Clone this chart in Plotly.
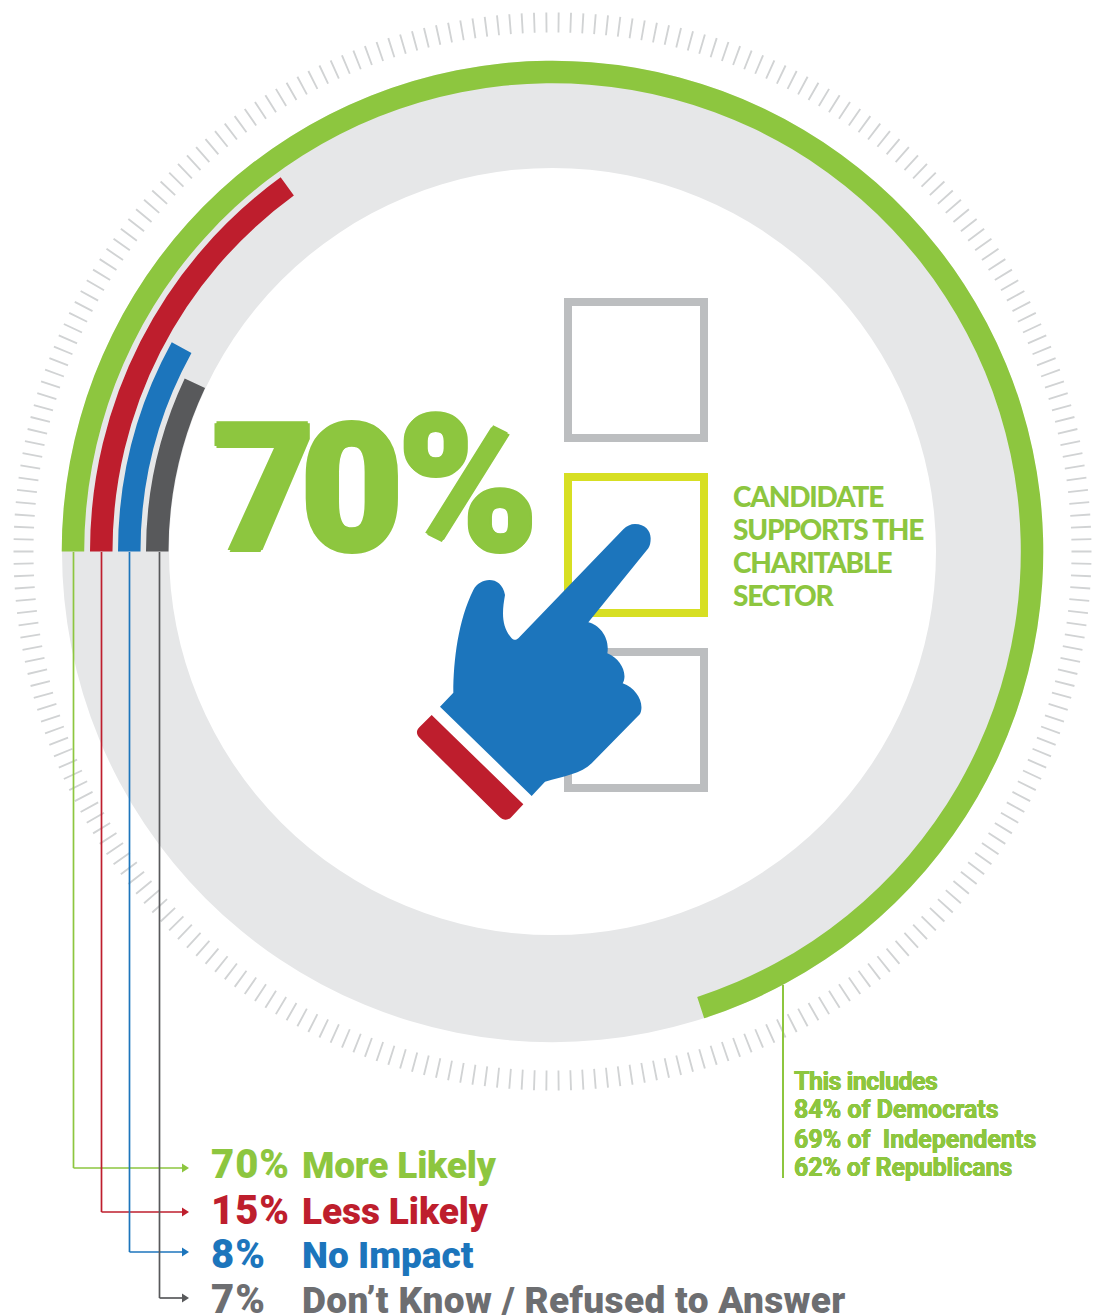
import re
import numpy as np
import plotly.graph_objects as go

W, H = 1099, 1315
CX, CY, RMAX = 552.5, 551.5, 540

# data
shares = [70, 15, 8, 7]
pct_labels = ["70%", "15%", "8%", "7%"]
names = ["More Likely", "Less Likely", "No Impact", "Don’t Know / Refused to Answer"]
colors = ["#8dc63f", "#be1e2d", "#1c75bc", "#58595b"]
text_colors = ["#8dc63f", "#be1e2d", "#1c75bc", "#6d6e71"]
ring_bases = [468.3, 440, 412, 384]
ring_thick = 22.5
note_lines = ["This includes", "84% of Democrats", "69% of  Independents", "62% of Republicans"]
side_lines = ["CANDIDATE", "SUPPORTS THE", "CHARITABLE", "SECTOR"]

GREEN = colors[0]
FONT = "Roboto"


def px(x):
    return x / W


def py(y):
    return 1 - y / H


def path_from(d, ox=0.0, oy=0.0, k=1.0):
    toks = re.findall(r"[MLCZ]|-?\d+\.?\d*", d)
    out, i = [], 0
    while i < len(toks):
        t = toks[i]
        if t in "MLCZ":
            out.append(t)
            i += 1
        else:
            x, y = float(toks[i]), float(toks[i + 1])
            out.append(f"{px(ox + x * k):.5f},{py(oy + y * k):.5f}")
            i += 2
    return " ".join(out)


fig = go.Figure()

# tick ring
n_ticks = 274
fig.add_trace(go.Barpolar(
    theta=np.arange(n_ticks) * 360 / n_ticks, r=[20] * n_ticks, base=[519] * n_ticks,
    width=[0.2] * n_ticks, marker=dict(color="#d1d3d4", line=dict(width=0)), hoverinfo="skip"))
# background ring
fig.add_trace(go.Barpolar(
    theta=[180], r=[107], base=[383.5], width=[360],
    marker=dict(color="#e6e7e8", line=dict(width=0)), hoverinfo="skip"))
# series arcs
for s, c, b, n in zip(shares, colors, ring_bases, names):
    fig.add_trace(go.Barpolar(
        theta=[s * 3.6 / 2], width=[s * 3.6], r=[ring_thick], base=[b], name=n,
        marker=dict(color=c, line=dict(width=0))))

shapes = []


def seg(x0, y0, x1, y1, c, w=1.7):
    shapes.append(dict(type="line", xref="paper", yref="paper", x0=px(x0), y0=py(y0),
                       x1=px(x1), y1=py(y1), line=dict(color=c, width=w), layer="above"))


def fill(d, c, ox=0.0, oy=0.0, k=1.0):
    shapes.append(dict(type="path", xref="paper", yref="paper", path=path_from(d, ox, oy, k),
                       fillcolor=c, line=dict(width=0), layer="above"))


# leaders
lead_x = [73.5, 101.5, 129.5, 159.5]
lead_y = [1168, 1212, 1252, 1298]
for x, y, c in zip(lead_x, lead_y, colors):
    seg(x, 552, x, y, c)
    seg(x, y, 184, y, c)
    fill(f"M 182 {y-4.5} L 189 {y} L 182 {y+4.5} Z", c)
seg(783, 985, 783, 1178, GREEN, 2)

# check boxes
for y0, c in zip([298, 473, 648], ["#bcbec0", "#d7df23", "#bcbec0"]):
    shapes.append(dict(type="rect", xref="paper", yref="paper", x0=px(568), x1=px(704),
                       y0=py(y0 + 4), y1=py(y0 + 140), line=dict(color=c, width=8),
                       fillcolor="rgba(0,0,0,0)", layer="above"))

# hand + cuff (traced in 3x zoom space)
hand = ("M 705 42 C 735 42 752 62 752 85 C 752 98 750 108 745 115 L 565 337 "
        "C 600 345 630 385 622 430 C 660 445 685 490 668 520 C 710 535 735 580 720 612 "
        "L 575 760 C 545 790 490 800 435 815 L 395 858 L 120 590 L 160 548 "
        "C 160 450 175 330 220 240 C 240 200 305 195 315 255 C 305 310 305 350 335 385 "
        "C 343 392 350 390 355 385 L 670 58 C 680 48 692 42 705 42 Z")
cuff = ("M 95 615 L 370 883 L 335 920 C 325 932 310 932 298 920 L 60 685 "
        "C 48 673 48 662 58 652 Z")
fill(hand, colors[2], 400, 510, 1 / 3)
fill(cuff, colors[1], 400, 510, 1 / 3)

ann = []


def thick(c, t):
    if not t:
        return "none"
    return f"{t}px 0 0 {c}, -{t}px 0 0 {c}, 0 {t}px 0 {c}, 0 -{t}px 0 {c}"


def spaced(s, sp):
    return f'<span style="letter-spacing:{sp}px">{s}</span>'


def text(x, base, s, size, c, weight=700, family=FONT, t=0):
    ann.append(dict(xref="paper", yref="paper", x=px(x), y=py(base + 0.27 * size), text=s,
                    showarrow=False, xanchor="left", yanchor="bottom", borderpad=0, borderwidth=0,
                    font=dict(family=family, size=size, color=c, weight=weight, shadow=thick(c, t))))


bases = [1177, 1223, 1267, 1312]
name_spacing = [-0.2, -0.1, 0, 0.35]
for b, p, n, c, sp in zip(bases, pct_labels, names, text_colors, name_spacing):
    text(211, b, spaced(p, 1), 40, c, weight=900)
    text(302, b, spaced(n, sp), 37, c, weight=900)
for b, s in zip([505, 538, 571, 604], side_lines):
    text(733, b, spaced(s, -1.2), 28, GREEN, family="Lato", weight=900)
for b, s, sp in zip([1089, 1117, 1147, 1175], note_lines, [-0.5, 0, 0, -0.15]):
    text(794, b, spaced(s, sp), 25, GREEN, t=0.3)
text(212, 548,
     '<span style="letter-spacing:-15px">7</span><span style="letter-spacing:-6px">0</span>'
     '<span style="font-size:190px">%</span>',
     178, GREEN, weight=900, t=2)

fig.update_layout(
    width=W, height=H, margin=dict(l=0, r=0, t=0, b=0), showlegend=False,
    paper_bgcolor="white", plot_bgcolor="white",
    polar=dict(
        domain=dict(x=[px(CX - RMAX), px(CX + RMAX)], y=[py(CY + RMAX), py(CY - RMAX)]),
        barmode="overlay", bgcolor="rgba(0,0,0,0)",
        radialaxis=dict(visible=False, range=[0, RMAX]),
        angularaxis=dict(visible=False, rotation=180, direction="clockwise"),
    ),
    shapes=shapes, annotations=ann,
)
fig.write_html("out.html", config=dict(displayModeBar=False),
               post_script="document.body.style.margin='0';")
